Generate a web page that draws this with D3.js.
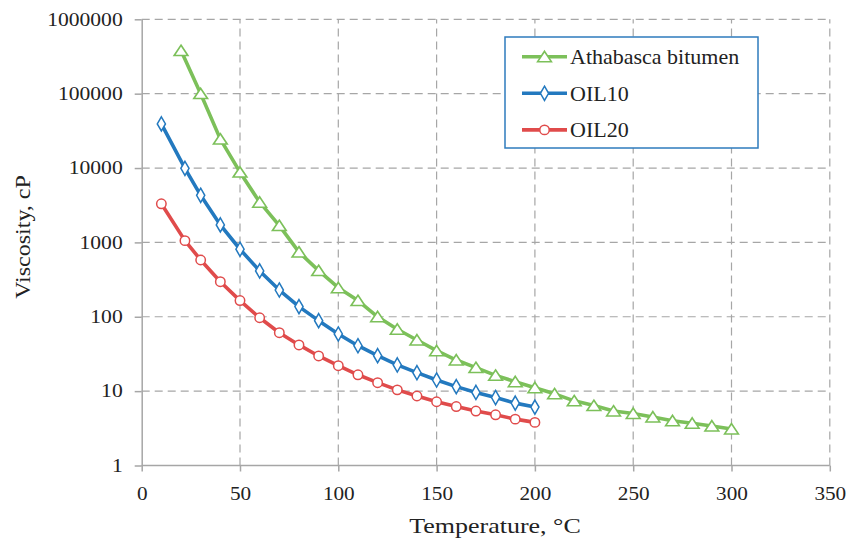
<!DOCTYPE html>
<html>
<head>
<meta charset="utf-8">
<script src="https://cdn.jsdelivr.net/npm/d3@7"></script>
<style>
  body { margin: 0; background: #fff; }
  svg { display: block; font-family: "Liberation Serif", "Times New Roman", serif; }
  .grid line { stroke: #a6a6a6; stroke-width: 1.2; stroke-dasharray: 8 5; }
  .axis path, .axis line { stroke: #a6a6a6; stroke-width: 1.5; }
  .axis text { fill: #222; font-size: 18px; font-family: "Liberation Serif", "Times New Roman", serif; }
</style>
</head>
<body>
<div id="chart"></div>
<script>
// --- data ---
const athTemps = [20, 30, 40, 50, 60, 70, 80, 90, 100, 110, 120, 130, 140, 150, 160, 170, 180, 190, 200, 210, 220, 230, 240, 250, 260, 270, 280, 290, 300];
const athVisc = [380000, 100000, 24500, 8800, 3470, 1680, 740, 417, 246, 165, 100, 68, 48.7, 35, 26.2, 20.7, 16.3, 13.4, 11.1, 9.2, 7.4, 6.4, 5.4, 5.0, 4.5, 4.0, 3.7, 3.4, 3.1];

const oilTemps = [10, 22, 30, 40, 50, 60, 70, 80, 90, 100, 110, 120, 130, 140, 150, 160, 170, 180, 190, 200];
const oil10Visc = [39200, 9900, 4300, 1720, 809, 413, 229, 137, 88.7, 58.7, 40.8, 30, 22.5, 17.7, 14.1, 11.5, 9.6, 8.2, 6.9, 6.1];
const oil20Visc = [3300, 1056, 580, 296, 165, 97, 61, 41.8, 29.7, 22, 16.6, 13, 10.4, 8.6, 7.2, 6.2, 5.4, 4.8, 4.2, 3.8];

const xTicks = [0, 50, 100, 150, 200, 250, 300, 350];
const yTicks = [1, 10, 100, 1000, 10000, 100000, 1000000];

const seriesNames = ["Athabasca bitumen", "OIL10", "OIL20"];
const seriesColors = ["#7cc05a", "#2379bf", "#e04b4b"];
const seriesMarkers = ["triangle", "diamond", "circle"];

const series = [
  { name: seriesNames[0], points: athTemps.map((t, i) => [t, athVisc[i]]) },
  { name: seriesNames[1], points: oilTemps.map((t, i) => [t, oil10Visc[i]]) },
  { name: seriesNames[2], points: oilTemps.map((t, i) => [t, oil20Visc[i]]) }
];

const width = 849, height = 542;
const margin = { top: 19.3, right: 19.2, bottom: 76.5, left: 141.7 };

const svg = d3.select("#chart").append("svg")
  .attr("width", width)
  .attr("height", height);

const x = d3.scaleLinear().domain([0, 350]).range([margin.left, width - margin.right]);
const y = d3.scaleLog().domain([1, 1000000]).range([height - margin.bottom, margin.top]);

// stretch text horizontally around its anchor point (the original's glyphs are wider than Times)
function stretch(sel, s) {
  sel.each(function () {
    const t = d3.select(this);
    const tx = +t.attr("x") || 0, ty = +t.attr("y") || 0;
    t.attr("x", 0).attr("y", 0).attr("transform", `translate(${tx},${ty}) scale(${s},1)`);
  });
}

// grid
const grid = svg.append("g").attr("class", "grid");
grid.selectAll(".gx").data(xTicks.slice(1)).join("line")
  .attr("x1", d => x(d)).attr("x2", d => x(d))
  .attr("y1", y(1)).attr("y2", y(1000000));
grid.selectAll(".gy").data(yTicks.slice(1)).join("line")
  .attr("x1", x(0)).attr("x2", x(350))
  .attr("y1", d => y(d)).attr("y2", d => y(d));

// axes
const gx = svg.append("g").attr("class", "axis")
  .attr("transform", `translate(0,${y(1)})`)
  .call(d3.axisBottom(x).tickValues(xTicks).tickSize(6).tickPadding(16).tickSizeOuter(0));
const gy = svg.append("g").attr("class", "axis")
  .attr("transform", `translate(${x(0)},0)`)
  .call(d3.axisLeft(y).tickValues(yTicks).tickFormat(d3.format("d")).tickSize(7).tickPadding(12).tickSizeOuter(0));
gx.attr("font-family", null);
gy.attr("font-family", null);
gx.select(".domain").attr("d", `M${x(0)},0H${x(350)}`);
gx.selectAll("text").call(stretch, 1.18);
gy.selectAll("text").call(stretch, 1.2);

// axis titles
svg.append("text")
  .attr("transform", `translate(495,533) scale(1.3,1)`)
  .attr("text-anchor", "middle")
  .attr("font-size", 20)
  .attr("fill", "#222")
  .text("Temperature, °C");
svg.append("text")
  .attr("transform", `translate(29.5,237) rotate(-90) scale(1.2,1)`)
  .attr("text-anchor", "middle")
  .attr("font-size", 20)
  .attr("fill", "#222")
  .text("Viscosity, cP");

// markers
const symbolFor = {
  triangle: d3.symbol().type(d3.symbolTriangle).size(62),
  diamond: d3.symbol().type(d3.symbolDiamond).size(58),
  circle: d3.symbol().type(d3.symbolCircle).size(70)
};

const line = d3.line().x(d => x(d[0])).y(d => y(d[1]));

const plot = svg.append("g");
series.forEach((s, i) => {
  const g = plot.append("g");
  g.append("path")
    .attr("d", line(s.points))
    .attr("fill", "none")
    .attr("stroke", seriesColors[i])
    .attr("stroke-width", 3.6)
    .attr("stroke-linejoin", "round");
  g.selectAll("path.m").data(s.points).join("path")
    .attr("class", "m")
    .attr("d", symbolFor[seriesMarkers[i]])
    .attr("transform", d => `translate(${x(d[0])},${y(d[1]) + (seriesMarkers[i] === "triangle" ? 1.5 : 0)})${seriesMarkers[i] === "triangle" ? " scale(1.15,1)" : ""}`)
    .attr("fill", "#fff")
    .attr("stroke", seriesColors[i])
    .attr("stroke-width", 1.5);
});

// legend
const legend = svg.append("g").attr("transform", "translate(505,37)");
legend.append("rect")
  .attr("width", 253).attr("height", 111)
  .attr("fill", "#fff")
  .attr("stroke", "#2e7bbd")
  .attr("stroke-width", 1.5);
const rows = legend.selectAll("g.row").data(seriesNames).join("g")
  .attr("class", "row")
  .attr("transform", (d, i) => `translate(0,${19.7 + i * 36.6})`);
rows.append("line")
  .attr("x1", 17).attr("x2", 62)
  .attr("stroke", (d, i) => seriesColors[i])
  .attr("stroke-width", 3.6);
rows.append("path")
  .attr("d", (d, i) => symbolFor[seriesMarkers[i]]())
  .attr("transform", (d, i) => `translate(39.5,${seriesMarkers[i] === "triangle" ? 1.5 : 0})${seriesMarkers[i] === "triangle" ? " scale(1.15,1)" : ""}`)
  .attr("fill", "#fff")
  .attr("stroke", (d, i) => seriesColors[i])
  .attr("stroke-width", 1.5);
rows.append("text")
  .attr("x", 65)
  .attr("dy", "0.34em")
  .attr("font-size", 22)
  .attr("fill", "#222")
  .text(d => d);
</script>
</body>
</html>
